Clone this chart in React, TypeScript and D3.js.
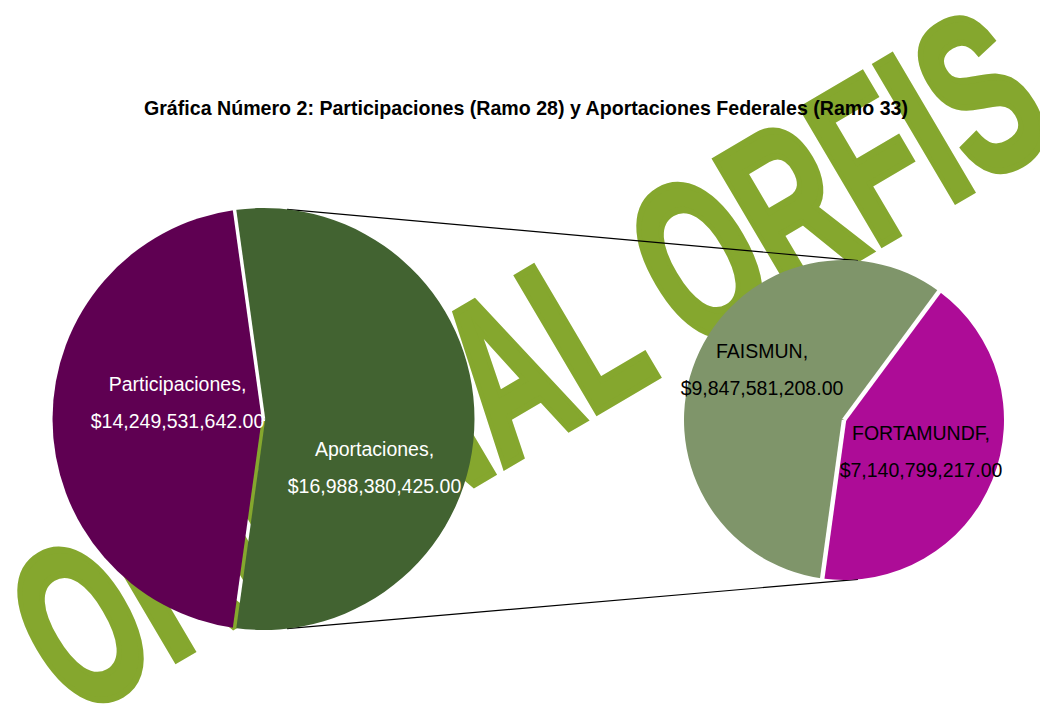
import React from "react";
import * as d3 from "d3";

const chartTitle = "Gráfica Número 2: Participaciones (Ramo 28) y Aportaciones Federales (Ramo 33)";
const watermarkText = "ORIGINAL ORFIS";

const primaryCategories = ["Aportaciones", "Participaciones"];
const primaryValues = [16988380425.0, 14249531642.0];
const primaryColors = ["#426331", "#5f0052"];
const primaryLabelColors = ["#ffffff", "#ffffff"];

const secondaryCategories = ["FORTAMUNDF", "FAISMUN"];
const secondaryValues = [7140799217.0, 9847581208.0];
const secondaryColors = ["#ad0c97", "#7f956a"];
const secondaryLabelColors = ["#000000", "#000000"];

const W = 1040;
const H = 715;
const PRIMARY = { cx: 263.5, cy: 419, r: 211 };
const SECONDARY = { cx: 844, cy: 420, r: 160 };
// offsets of first label line baseline relative to pie centre
const primaryLabelOffsets = [[111, 37], [-86, -28]];
const secondaryLabelOffsets = [[77, 20], [-82, -62]];
const LINE_GAP = 36.5;

const fmt = d3.format("$,.2f");
const toRad = (deg: number) => (deg * Math.PI) / 180;

function polar(c: { cx: number; cy: number }, r: number, a: number): [number, number] {
  return [c.cx + r * Math.sin(a), c.cy - r * Math.cos(a)];
}

export default function App() {
  const total = d3.sum(primaryValues);
  const otherFrac = primaryValues[0] / total;
  const pStart = Math.PI / 2 - otherFrac * Math.PI;
  const primaryArcs = d3
    .pie<number>()
    .sort(null)
    .startAngle(pStart)
    .endAngle(pStart + 2 * Math.PI)(primaryValues);

  const sStart = toRad(36.5);
  const secondaryArcs = d3
    .pie<number>()
    .sort(null)
    .startAngle(sStart)
    .endAngle(sStart + 2 * Math.PI)(secondaryValues);

  const arcP = d3.arc<d3.PieArcDatum<number>>().innerRadius(0).outerRadius(PRIMARY.r);
  const arcS = d3.arc<d3.PieArcDatum<number>>().innerRadius(0).outerRadius(SECONDARY.r);

  const connAngleP = toRad(6.4);
  const connAngleS = toRad(5);
  const topA = polar(PRIMARY, PRIMARY.r, connAngleP);
  const botA = polar(PRIMARY, PRIMARY.r, Math.PI - connAngleP);
  const topB = polar(SECONDARY, SECONDARY.r, connAngleS);
  const botB = polar(SECONDARY, SECONDARY.r, Math.PI - connAngleS);

  const labelFont = "'Liberation Sans', Arial, sans-serif";

  return (
    <svg
      width={W}
      height={H}
      viewBox={`0 0 ${W} ${H}`}
      style={{ position: "fixed", left: 0, top: 0, background: "#ffffff" }}
    >
      <defs>
        <mask id="gapP" maskUnits="userSpaceOnUse" x={0} y={0} width={W} height={H}>
          <rect x={0} y={0} width={W} height={H} fill="#fff" />
          {primaryArcs.map((a, i) => {
            const p = polar(PRIMARY, PRIMARY.r + 6, a.startAngle);
            return (
              <line key={i} x1={PRIMARY.cx} y1={PRIMARY.cy} x2={p[0]} y2={p[1]} stroke="#000" strokeWidth={3.5} />
            );
          })}
        </mask>
        <mask id="gapS" maskUnits="userSpaceOnUse" x={0} y={0} width={W} height={H}>
          <rect x={0} y={0} width={W} height={H} fill="#fff" />
          {secondaryArcs.map((a, i) => {
            const p = polar(SECONDARY, SECONDARY.r + 6, a.startAngle);
            return (
              <line key={i} x1={SECONDARY.cx} y1={SECONDARY.cy} x2={p[0]} y2={p[1]} stroke="#000" strokeWidth={4.5} />
            );
          })}
        </mask>
      </defs>
      <rect x={0} y={0} width={W} height={H} fill="#ffffff" />

      {/* watermark */}
      <text
        transform={`translate(74,720) rotate(-30.5)`}
        fontFamily="'Liberation Sans Narrow', 'Liberation Sans', Arial, sans-serif"
        fontWeight="bold"
        fontSize={228}
        fill="#85a72e"
        stroke="#85a72e"
        strokeWidth={7}
        strokeLinejoin="miter"
        textLength={1145}
        lengthAdjust="spacingAndGlyphs"
      >
        {watermarkText}
      </text>

      <text
        x={526}
        y={115}
        textAnchor="middle"
        fontFamily="'Liberation Sans Narrow', 'Liberation Sans', Arial, sans-serif"
        fontWeight="bold"
        fontSize={20.5}
        fill="#000"
        textLength={764}
        lengthAdjust="spacingAndGlyphs"
      >
        {chartTitle}
      </text>

      {/* connector lines */}
      <line x1={topA[0]} y1={topA[1]} x2={topB[0]} y2={topB[1]} stroke="#000" strokeWidth={1.2} />
      <line x1={botA[0]} y1={botA[1]} x2={botB[0]} y2={botB[1]} stroke="#000" strokeWidth={1.2} />

      <g mask="url(#gapP)">
        <g transform={`translate(${PRIMARY.cx},${PRIMARY.cy})`}>
          {primaryArcs.map((a, i) => (
            <path key={i} d={arcP(a) || ""} fill={primaryColors[i]} />
          ))}
        </g>
      </g>
      <g mask="url(#gapS)">
        <g transform={`translate(${SECONDARY.cx},${SECONDARY.cy})`}>
          {secondaryArcs.map((a, i) => (
            <path key={i} d={arcS(a) || ""} fill={secondaryColors[i]} />
          ))}
        </g>
      </g>

      {primaryCategories.map((c, i) => (
        <text
          key={c}
          textAnchor="middle"
          fontFamily={labelFont}
          fontSize={19.5}
          fill={primaryLabelColors[i]}
        >
          <tspan x={PRIMARY.cx + primaryLabelOffsets[i][0]} y={PRIMARY.cy + primaryLabelOffsets[i][1]}>
            {c + ","}
          </tspan>
          <tspan x={PRIMARY.cx + primaryLabelOffsets[i][0]} y={PRIMARY.cy + primaryLabelOffsets[i][1] + LINE_GAP}>
            {fmt(primaryValues[i])}
          </tspan>
        </text>
      ))}
      {secondaryCategories.map((c, i) => (
        <text
          key={c}
          textAnchor="middle"
          fontFamily={labelFont}
          fontSize={19.5}
          fill={secondaryLabelColors[i]}
        >
          <tspan x={SECONDARY.cx + secondaryLabelOffsets[i][0]} y={SECONDARY.cy + secondaryLabelOffsets[i][1]}>
            {c + ","}
          </tspan>
          <tspan x={SECONDARY.cx + secondaryLabelOffsets[i][0]} y={SECONDARY.cy + secondaryLabelOffsets[i][1] + LINE_GAP}>
            {fmt(secondaryValues[i])}
          </tspan>
        </text>
      ))}
    </svg>
  );
}
